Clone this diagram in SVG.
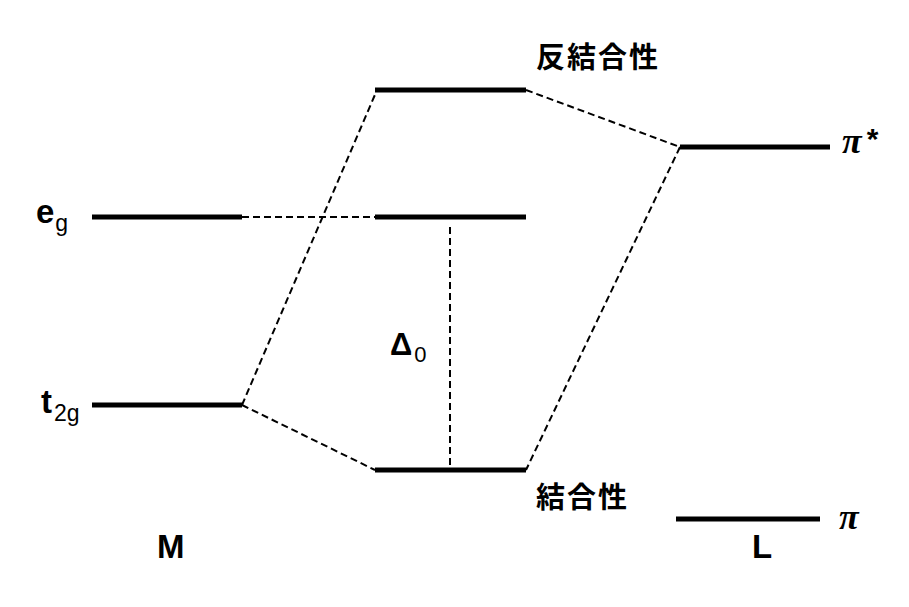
<svg xmlns="http://www.w3.org/2000/svg" width="909" height="607" viewBox="0 0 909 607">
<style>
.lvl{stroke:#000;stroke-width:5;fill:none}
.dash{stroke:#000;stroke-width:2;stroke-dasharray:7 4;fill:none}
.lat{font-family:"Liberation Sans","Noto Sans",sans-serif;font-weight:bold;fill:#000}
.sub{font-weight:normal}
.cjk{font-family:"Noto Sans CJK JP",sans-serif;font-weight:bold;font-size:29px;fill:#000;letter-spacing:2px}
.pi{font-family:"Liberation Serif",serif;font-style:italic;font-weight:bold;fill:#000}
</style>
<rect width="909" height="607" fill="#fff"/>
<g id="connectors">
<line class="dash" x1="242" y1="217" x2="375" y2="217"/>
<line class="dash" x1="242" y1="405" x2="377" y2="90"/>
<line class="dash" x1="242" y1="405" x2="375" y2="470"/>
<line class="dash" x1="526" y1="90" x2="680" y2="147"/>
<line class="dash" x1="680" y1="147" x2="526" y2="470"/>
<line class="dash" x1="450" y1="227" x2="450" y2="470"/>
</g>
<g id="eg">
<line class="lvl" x1="92" y1="217" x2="242" y2="217"/>
<text class="lat" x="36" y="223" font-size="33">e<tspan class="sub" font-size="23" dx="1" dy="8">g</tspan></text>
</g>
<g id="t2g">
<line class="lvl" x1="92" y1="405" x2="242" y2="405"/>
<text class="lat" x="41" y="413" font-size="33">t<tspan class="sub" font-size="23" dx="2" dy="8">2g</tspan></text>
</g>
<g id="antibonding">
<line class="lvl" x1="375" y1="90" x2="526" y2="90"/>
<text class="cjk" x="536" y="68">反結合性</text>
</g>
<g id="eg_complex">
<line class="lvl" x1="375" y1="217" x2="526" y2="217"/>
</g>
<g id="bonding">
<line class="lvl" x1="375" y1="470" x2="526" y2="470"/>
<text class="cjk" x="536" y="508">結合性</text>
</g>
<g id="delta">
<text class="lat" x="390" y="355" font-size="31">Δ<tspan class="sub" font-size="22" dx="2" dy="7">0</tspan></text>
</g>
<g id="pistar">
<line class="lvl" x1="680" y1="147" x2="830" y2="147"/>
<text class="pi" x="842" y="153" font-size="36">π<tspan font-weight="bold" font-style="normal" font-family="Liberation Sans,sans-serif" font-size="30" dx="5" dy="-4">*</tspan></text>
</g>
<g id="pi">
<line class="lvl" x1="676" y1="519" x2="820" y2="519"/>
<text class="pi" x="839" y="529" font-size="36">π</text>
</g>
<g id="M">
<text class="lat" x="157" y="558" font-size="33">M</text>
</g>
<g id="L">
<text class="lat" x="752" y="558" font-size="33">L</text>
</g>
</svg>
